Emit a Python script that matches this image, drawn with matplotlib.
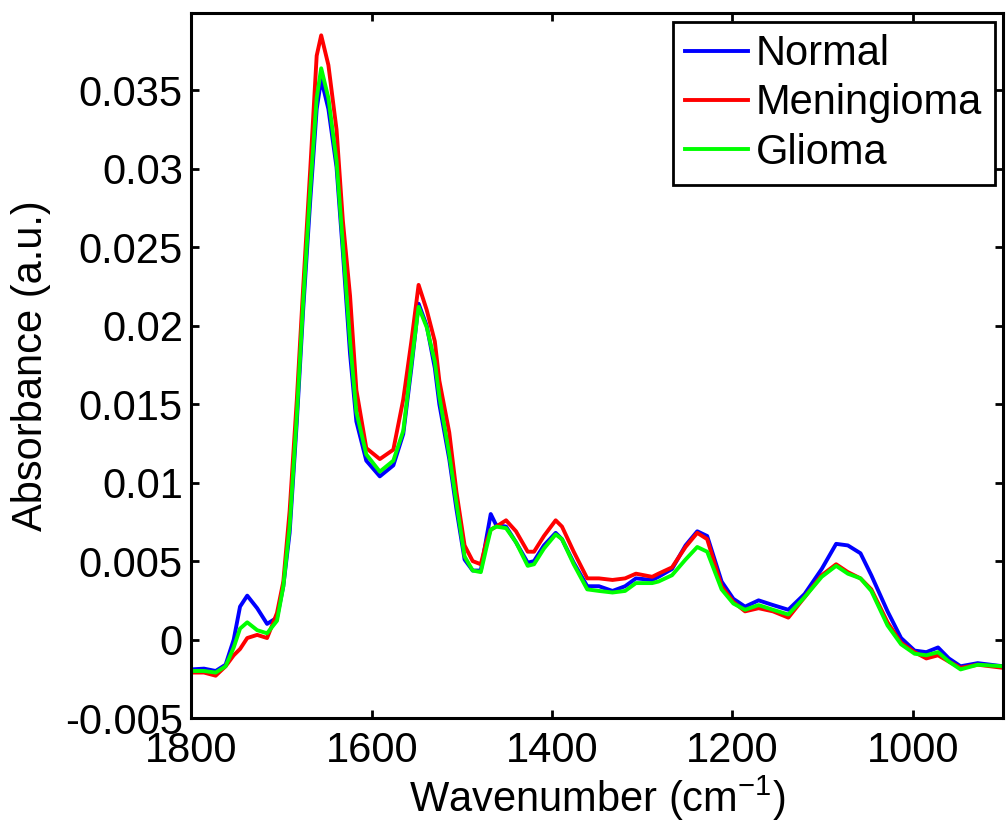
import numpy as np
import matplotlib.pyplot as plt

plt.rcParams['font.family'] = ['Liberation Sans', 'DejaVu Sans']
plt.rcParams['mathtext.fontset'] = 'custom'
plt.rcParams['mathtext.rm'] = 'Liberation Sans'

# wavenumber grid (cm-1)
wavenumber = [1800, 1786, 1773, 1762, 1753, 1746, 1738, 1727, 1716, 1705,
              1698, 1691, 1683, 1676, 1668, 1661, 1656, 1648, 1639, 1632,
              1624, 1617, 1606, 1591, 1576, 1565, 1556, 1548, 1539, 1530,
              1525, 1514, 1506, 1497, 1488, 1479, 1473, 1468, 1462, 1451,
              1440, 1427, 1420, 1409, 1396, 1389, 1376, 1361, 1348, 1333,
              1319, 1307, 1289, 1282, 1267, 1252, 1239, 1228, 1212, 1199,
              1186, 1171, 1155, 1138, 1120, 1101, 1085, 1072, 1058, 1046,
              1028, 1013, 998, 985, 972, 960, 947, 928, 900]

normal = [-0.0019, -0.00185, -0.0020, -0.0016, 0.0000, 0.0021, 0.0028, 0.0020, 0.0010, 0.0014,
          0.0034, 0.0068, 0.0139, 0.0210, 0.0281, 0.0338, 0.0357, 0.0338, 0.0301, 0.0247,
          0.0182, 0.0139, 0.0114, 0.0104, 0.0111, 0.0131, 0.0173, 0.0214, 0.0200, 0.0173,
          0.0150, 0.0115, 0.0083, 0.0051, 0.0044, 0.0044, 0.0064, 0.0080, 0.0073, 0.0072,
          0.0062, 0.0049, 0.0050, 0.0060, 0.0068, 0.0064, 0.0049, 0.0034, 0.0034, 0.0031,
          0.0034, 0.0039, 0.0038, 0.0040, 0.0045, 0.0060, 0.0069, 0.0066, 0.0037, 0.0026,
          0.0021, 0.0025, 0.0022, 0.0019, 0.0029, 0.0045, 0.0061, 0.0060, 0.0055, 0.0041,
          0.0018, 0.0001, -0.0007, -0.0008, -0.0005, -0.0012, -0.0017, -0.0015, -0.0017]

meningioma = [-0.0021, -0.0021, -0.0023, -0.0017, -0.0010, -0.0006, 0.0001, 0.0003, 0.0001, 0.0017,
              0.0037, 0.0082, 0.0153, 0.0224, 0.0301, 0.0372, 0.0385, 0.0366, 0.0325, 0.0267,
              0.0219, 0.0159, 0.0122, 0.0115, 0.0121, 0.0153, 0.0190, 0.0226, 0.0210, 0.0190,
              0.0165, 0.0132, 0.0094, 0.0060, 0.0050, 0.0048, 0.0062, 0.0070, 0.0072, 0.0076,
              0.0069, 0.0056, 0.0056, 0.0066, 0.0076, 0.0072, 0.0056, 0.0039, 0.0039, 0.0038,
              0.0039, 0.0042, 0.0040, 0.0042, 0.0046, 0.0059, 0.0068, 0.0064, 0.0034, 0.0024,
              0.0018, 0.0020, 0.0018, 0.0014, 0.0027, 0.0041, 0.0048, 0.0043, 0.0039, 0.0032,
              0.0011, -0.0002, -0.0008, -0.0012, -0.0010, -0.0014, -0.0018, -0.0016, -0.0018]

glioma = [-0.0020, -0.0020, -0.0021, -0.0017, -0.0005, 0.0007, 0.0011, 0.0006, 0.0004, 0.0012,
          0.0034, 0.0072, 0.0143, 0.0215, 0.0288, 0.0345, 0.0364, 0.0345, 0.0305, 0.0252,
          0.0190, 0.0145, 0.0118, 0.0107, 0.0114, 0.0133, 0.0176, 0.0212, 0.0199, 0.0177,
          0.0155, 0.0118, 0.0087, 0.0053, 0.0044, 0.0043, 0.0058, 0.0070, 0.0072, 0.0071,
          0.0062, 0.0047, 0.0048, 0.0058, 0.0067, 0.0064, 0.0048, 0.0032, 0.0031, 0.0030,
          0.0031, 0.0036, 0.0036, 0.0037, 0.0041, 0.0051, 0.0059, 0.0056, 0.0032, 0.0023,
          0.0019, 0.0022, 0.0019, 0.0016, 0.0027, 0.0040, 0.0047, 0.0042, 0.0039, 0.0031,
          0.0009, -0.0003, -0.0009, -0.0010, -0.0008, -0.0014, -0.0019, -0.0016, -0.0017]

xticks = [1800, 1600, 1400, 1200, 1000]
yticks = [-0.005, 0, 0.005, 0.01, 0.015, 0.02, 0.025, 0.03, 0.035]
ytick_labels = ['-0.005', '0', '0.005', '0.01', '0.015', '0.02', '0.025', '0.03', '0.035']

fig = plt.figure(figsize=(10.07, 8.34), dpi=100)
ax = fig.add_axes([0.190, 0.139, 0.806, 0.845])

ax.plot(wavenumber, normal, color='#0000ff', lw=2.8, label='Normal')
ax.plot(wavenumber, meningioma, color='#ff0000', lw=2.8, label='Meningioma')
ax.plot(wavenumber, glioma, color='#00ff00', lw=2.8, label='Glioma')

ax.set_xlim(1800, 900)
ax.set_ylim(-0.005, 0.0399)
ax.set_xticks(xticks)
ax.set_xticklabels([str(t) for t in xticks])
ax.set_yticks(yticks)
ax.set_yticklabels(ytick_labels)

ax.tick_params(direction='in', length=6, width=2, labelsize=30, top=True, right=True)
ax.tick_params(axis='x', pad=9)
ax.tick_params(axis='y', pad=6)
for s in ax.spines.values():
    s.set_linewidth(2.2)

ax.set_xlabel(r'Wavenumber (cm$^{\mathregular{-1}}$)', fontsize=30, labelpad=2)
ax.set_ylabel('Absorbance (a.u.)', fontsize=30, labelpad=10)

leg = ax.legend(loc='upper right', fontsize=30, fancybox=False, framealpha=1,
                edgecolor='black', handlelength=1.5, handletextpad=0.2,
                labelspacing=0.22, borderpad=0.3, borderaxespad=0.2)
leg.get_frame().set_linewidth(2)

fig.savefig('out.png', dpi=100)
